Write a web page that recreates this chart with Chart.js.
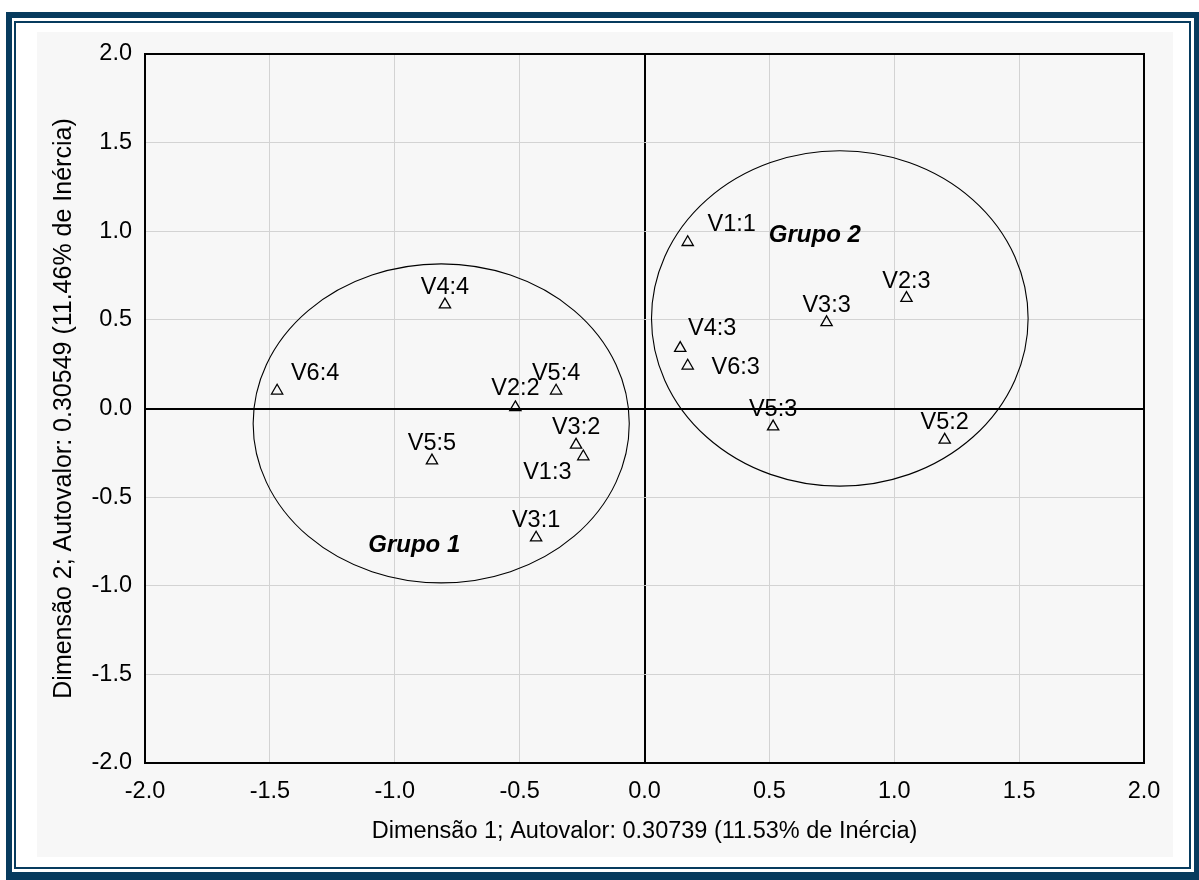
<!DOCTYPE html>
<html>
<head>
<meta charset="utf-8">
<script src="https://cdn.jsdelivr.net/npm/chart.js@4.4.0/dist/chart.umd.min.js"></script>
<style>
  html, body { margin: 0; padding: 0; background: #fff; overflow: hidden; }
  #mapa { position: absolute; left: 0; top: 0; }
</style>
</head>
<body>
<canvas id="mapa" width="1199" height="880"></canvas>
<script>
// categorias (pontos do mapa) e coordenadas nas duas dimensões
const pointLabels = ['V1:1', 'V2:3', 'V3:3', 'V4:3', 'V6:3', 'V5:3', 'V5:2', 'V4:4', 'V6:4', 'V2:2', 'V5:4', 'V3:2', 'V1:3', 'V5:5', 'V3:1'];
const dim1 = [0.173, 1.049, 0.729, 0.143, 0.173, 0.515, 1.202, -0.799, -1.471, -0.517, -0.354, -0.274, -0.245, -0.851, -0.434];
const dim2 = [0.938, 0.623, 0.486, 0.341, 0.241, -0.102, -0.177, 0.586, 0.100, 0.006, 0.100, -0.205, -0.271, -0.294, -0.729];

// grupos (elipses)
const groupNames = ['Grupo 1', 'Grupo 2'];
const groupCenterX = [-0.814, 0.782];
const groupCenterY = [-0.084, 0.508];
const groupRadiusX = [0.753, 0.754];
const groupRadiusY = [0.900, 0.946];
const groupLabelX = [-0.922, 0.682];
const groupLabelY = [-0.771, 0.975];

// marcas dos eixos
const tickValues = [-2.0, -1.5, -1.0, -0.5, 0.0, 0.5, 1.0, 1.5, 2.0];

const xTitle = 'Dimensão 1; Autovalor: 0.30739 (11.53% de Inércia)';
const yTitle = 'Dimensão 2; Autovalor: 0.30549 (11.46% de Inércia)';

// deslocamento dos rótulos (px) quando não ficam logo acima do ponto
const labelShift = {
  'V1:1': [44, -17.5],
  'V4:3': [32, -19.5],
  'V6:3': [48, 1.5],
  'V6:4': [38, -17.5],
  'V1:3': [-36, 15.5],
  'V2:2': [0, -18.5]
};

const FONT = 'Arial, "Liberation Sans", sans-serif';

// moldura azul e painel cinza atrás do gráfico
const framePlugin = {
  id: 'frame',
  beforeDraw(chart) {
    const c = chart.ctx;
    c.save();
    c.fillStyle = '#ffffff';
    c.fillRect(0, 0, 1199, 880);
    c.fillStyle = '#073b5e';
    c.fillRect(6, 12, 1193, 868);
    c.fillStyle = '#ffffff';
    c.fillRect(12, 18, 1182, 854);
    c.strokeStyle = '#073b5e';
    c.lineWidth = 2;
    c.strokeRect(15, 22, 1175, 846);
    c.fillStyle = '#f7f7f7';
    c.fillRect(37, 32, 1136, 825);
    c.restore();
  }
};

// elipses, rótulos dos pontos e nomes dos grupos
const annotPlugin = {
  id: 'annot',
  afterDatasetsDraw(chart) {
    const c = chart.ctx;
    const xs = chart.scales.x, ys = chart.scales.y;
    const a = chart.chartArea;
    c.save();
    c.beginPath();
    c.rect(a.left, a.top, a.right - a.left, a.bottom - a.top);
    c.clip();
    c.strokeStyle = '#000';
    c.lineWidth = 1.1;
    groupNames.forEach((g, i) => {
      const cx = xs.getPixelForValue(groupCenterX[i]);
      const cy = ys.getPixelForValue(groupCenterY[i]);
      const rx = Math.abs(xs.getPixelForValue(groupCenterX[i] + groupRadiusX[i]) - cx);
      const ry = Math.abs(ys.getPixelForValue(groupCenterY[i] + groupRadiusY[i]) - cy);
      c.beginPath();
      c.ellipse(cx, cy, rx, ry, 0, 0, Math.PI * 2);
      c.stroke();
    });
    c.fillStyle = '#000';
    c.textAlign = 'center';
    c.textBaseline = 'middle';
    c.font = '23.5px ' + FONT;
    pointLabels.forEach((lab, i) => {
      const px = xs.getPixelForValue(dim1[i]);
      const py = ys.getPixelForValue(dim2[i]);
      const sh = labelShift[lab] || [0, -17];
      c.fillText(lab, px + sh[0], py + sh[1]);
    });
    c.font = 'italic bold 24px ' + FONT;
    groupNames.forEach((g, i) => {
      c.fillText(g, xs.getPixelForValue(groupLabelX[i]), ys.getPixelForValue(groupLabelY[i]));
    });
    c.restore();
    // borda da área do gráfico
    c.save();
    c.strokeStyle = '#000';
    c.lineWidth = 2;
    c.strokeRect(a.left, a.top, a.right - a.left, a.bottom - a.top);
    c.restore();
  }
};

function gridColor(ctx) {
  return ctx.tick && ctx.tick.value === 0 ? '#000000' : '#d3d3d3';
}
function gridWidth(ctx) {
  return ctx.tick && ctx.tick.value === 0 ? 2 : 1;
}

const ctx = document.getElementById('mapa').getContext('2d');
new Chart(ctx, {
  type: 'scatter',
  data: {
    datasets: [{
      label: 'Categorias',
      data: dim1.map((v, i) => ({ x: v, y: dim2[i] })),
      pointStyle: 'triangle',
      pointRadius: 6.5,
      pointHoverRadius: 6.5,
      pointBackgroundColor: 'rgba(255,255,255,0)',
      pointBorderColor: '#000',
      pointBorderWidth: 1.3
    }]
  },
  options: {
    responsive: false,
    animation: false,
    devicePixelRatio: 1,
    layout: { padding: { left: 40, right: 55, top: 54, bottom: 30 } },
    plugins: {
      legend: { display: false },
      tooltip: { enabled: false }
    },
    scales: {
      x: {
        type: 'linear',
        min: -2, max: 2,
        afterBuildTicks: s => { s.ticks = tickValues.map(v => ({ value: v })); },
        afterFit: s => { s.height = 87; },
        grid: { color: gridColor, lineWidth: gridWidth, drawTicks: false },
        border: { display: false },
        ticks: {
          padding: 14,
          color: '#000',
          autoSkip: false,
          maxRotation: 0,
          font: { family: FONT, size: 23.5 },
          callback: v => v.toFixed(1)
        },
        title: {
          display: true,
          text: xTitle,
          color: '#000',
          font: { family: FONT, size: 23.5 },
          padding: { top: 0, bottom: 4 }
        }
      },
      y: {
        type: 'linear',
        min: -2, max: 2,
        afterBuildTicks: s => { s.ticks = tickValues.map(v => ({ value: v })); },
        afterFit: s => { s.width = 105; },
        grid: { color: gridColor, lineWidth: gridWidth, drawTicks: false },
        border: { display: false },
        ticks: {
          padding: 13,
          color: '#000',
          autoSkip: false,
          font: { family: FONT, size: 23.5 },
          callback: v => v.toFixed(1)
        },
        title: {
          display: true,
          text: yTitle,
          color: '#000',
          font: { family: FONT, size: 25 },
          padding: { top: 9, bottom: 0 }
        }
      }
    }
  },
  plugins: [framePlugin, annotPlugin]
});
</script>
</body>
</html>
